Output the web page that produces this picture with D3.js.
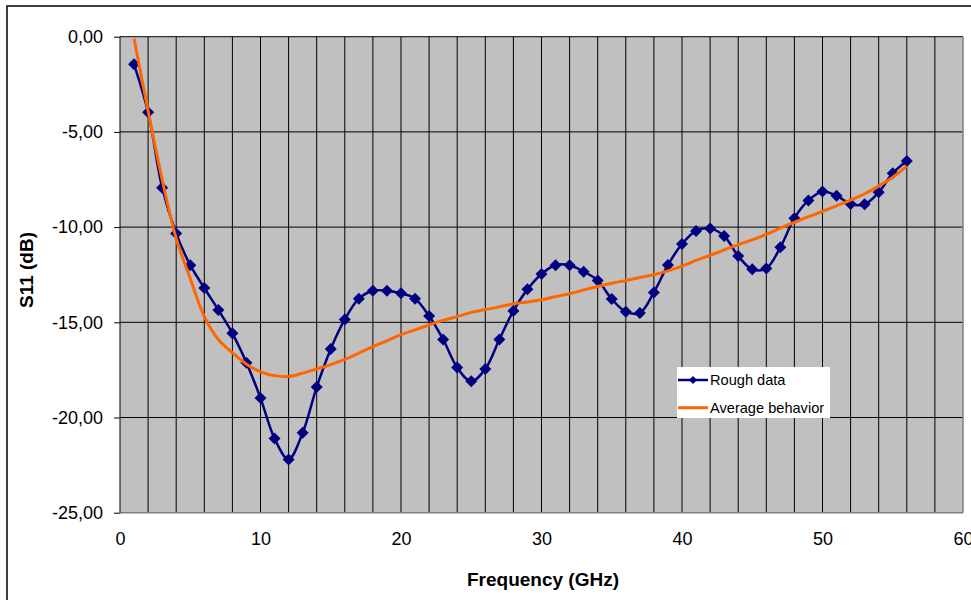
<!DOCTYPE html>
<html>
<head>
<meta charset="utf-8">
<script src="https://cdn.jsdelivr.net/npm/d3@7"></script>
<style>
  body { margin: 0; background: #fff; }
  text { font-family: "Liberation Sans", Arial, sans-serif; fill: #000; }
</style>
</head>
<body>
<div id="chart"></div>
<script>
// Datos
const frecuencias = [1, 2, 3, 4, 5, 6, 7, 8, 9, 10, 11, 12, 13, 14, 15, 16, 17, 18, 19, 20,
  21, 22, 23, 24, 25, 26, 27, 28, 29, 30, 31, 32, 33, 34, 35, 36, 37, 38, 39, 40,
  41, 42, 43, 44, 45, 46, 47, 48, 49, 50, 51, 52, 53, 54, 55, 56];

const roughData = [-1.45, -3.97, -7.93, -10.33, -12.0, -13.2, -14.35, -15.58, -17.12, -18.98,
  -21.1, -22.2, -20.8, -18.4, -16.4, -14.85, -13.76, -13.34, -13.34, -13.48,
  -13.76, -14.67, -15.9, -17.38, -18.1, -17.45, -15.9, -14.4, -13.27, -12.46,
  -12.0, -12.0, -12.34, -12.8, -13.78, -14.44, -14.51, -13.43, -11.99, -10.89,
  -10.2, -10.08, -10.47, -11.52, -12.22, -12.17, -11.06, -9.53, -8.6, -8.13,
  -8.35, -8.79, -8.8, -8.17, -7.17, -6.53];

const averageBehavior = [-0.1, -3.9, -7.5, -10.6, -12.7, -14.7, -15.9, -16.6, -17.2, -17.6,
  -17.8, -17.85, -17.67, -17.45, -17.22, -16.95, -16.62, -16.28, -15.97, -15.65,
  -15.4, -15.14, -14.9, -14.7, -14.48, -14.33, -14.19, -14.03, -13.93, -13.82,
  -13.65, -13.5, -13.3, -13.12, -12.95, -12.8, -12.65, -12.5, -12.3, -12.05,
  -11.75, -11.48, -11.2, -10.92, -10.67, -10.38, -10.05, -9.75, -9.45, -9.18,
  -8.88, -8.58, -8.25, -7.85, -7.38, -6.8];

const xTicks = [0, 10, 20, 30, 40, 50, 60];
const yTicks = [0, -5, -10, -15, -20, -25];
const xGrid = [2, 4, 6, 8, 12, 14, 16, 18, 22, 24, 26, 28, 32, 34, 36, 38, 42, 44, 46, 48, 52, 54, 56, 58,
  10, 20, 30, 40, 50];
const seriesNames = ["Rough data", "Average behavior"];

const width = 971, height = 600;
const plot = { left: 120, top: 36.7, right: 963, bottom: 512.7 };

const svg = d3.select("#chart").append("svg")
  .attr("width", width)
  .attr("height", height);

// marco exterior
svg.append("rect")
  .attr("x", 7).attr("y", 6)
  .attr("width", 1000).attr("height", 1000)
  .attr("fill", "none")
  .attr("stroke", "#000")
  .attr("stroke-width", 1.5);

const x = d3.scaleLinear().domain([0, 60]).range([plot.left, plot.right]);
const y = d3.scaleLinear().domain([-25, 0]).range([plot.bottom, plot.top]);

// fondo gris del área de trazado
svg.append("rect")
  .attr("x", plot.left).attr("y", plot.top)
  .attr("width", plot.right - plot.left)
  .attr("height", plot.bottom - plot.top)
  .attr("fill", "#c0c0c0");

// rejilla vertical
svg.append("g").selectAll("line")
  .data(xGrid)
  .enter().append("line")
  .attr("x1", d => x(d)).attr("x2", d => x(d))
  .attr("y1", plot.top).attr("y2", plot.bottom)
  .attr("stroke", "#000")
  .attr("stroke-width", 1);

// rejilla horizontal
svg.append("g").selectAll("line")
  .data(yTicks.filter(d => d !== -25))
  .enter().append("line")
  .attr("x1", plot.left).attr("x2", plot.right)
  .attr("y1", d => y(d)).attr("y2", d => y(d))
  .attr("stroke", "#000")
  .attr("stroke-width", 1);

// bordes derecho e inferior
svg.append("line")
  .attr("x1", plot.right).attr("x2", plot.right)
  .attr("y1", plot.top).attr("y2", plot.bottom)
  .attr("stroke", "#808080").attr("stroke-width", 1.5);
svg.append("line")
  .attr("x1", plot.left).attr("x2", plot.right)
  .attr("y1", plot.bottom).attr("y2", plot.bottom)
  .attr("stroke", "#808080").attr("stroke-width", 1.5);

// eje Y
const yAxis = svg.append("g")
  .attr("transform", `translate(${plot.left},0)`)
  .call(d3.axisLeft(y)
    .tickValues(yTicks)
    .tickSize(6)
    .tickPadding(11)
    .tickFormat(d => d3.format(".2f")(d).replace(".", ",").replace("−", "-")));
yAxis.select(".domain").attr("stroke", "#000").attr("d", `M0,${plot.top}V${plot.bottom}`);
yAxis.selectAll(".tick line").attr("stroke", "#000");
yAxis.selectAll("text")
  .style("font-size", "18px")
  .style("font-family", "'Liberation Sans', Arial, sans-serif")
  .attr("fill", "#000");

// eje X (solo etiquetas)
const xAxis = svg.append("g")
  .attr("transform", `translate(0,${plot.bottom})`)
  .call(d3.axisBottom(x).tickValues(xTicks).tickSize(0).tickPadding(20));
xAxis.select(".domain").remove();
xAxis.selectAll("text")
  .style("font-size", "18px")
  .style("font-family", "'Liberation Sans', Arial, sans-serif")
  .attr("fill", "#000");

// títulos de ejes
svg.append("text")
  .attr("x", 543).attr("y", 586)
  .attr("text-anchor", "middle")
  .style("font-size", "19px")
  .style("font-weight", "bold")
  .text("Frequency (GHz)");

svg.append("text")
  .attr("transform", "translate(33,270) rotate(-90)")
  .attr("text-anchor", "middle")
  .style("font-size", "19px")
  .style("font-weight", "bold")
  .text("S11 (dB)");

const clip = svg.append("clipPath").attr("id", "clip")
  .append("rect")
  .attr("x", plot.left).attr("y", plot.top)
  .attr("width", plot.right - plot.left)
  .attr("height", plot.bottom - plot.top);

const rough = frecuencias.map((f, i) => ({ f: f, v: roughData[i] }));
const avg = frecuencias.map((f, i) => ({ f: f, v: averageBehavior[i] }));

const line = d3.line()
  .x(d => x(d.f))
  .y(d => y(d.v))
  .curve(d3.curveCatmullRom.alpha(0.5));

// serie rough data
svg.append("path")
  .datum(rough)
  .attr("d", line)
  .attr("fill", "none")
  .attr("stroke", "#000080")
  .attr("stroke-width", 2.5)
  .attr("clip-path", "url(#clip)");

const diamond = d3.symbol().type(d3.symbolSquare).size(72);
svg.append("g").selectAll("path")
  .data(rough)
  .enter().append("path")
  .attr("d", diamond)
  .attr("transform", d => `translate(${x(d.f)},${y(d.v)}) rotate(45)`)
  .attr("fill", "#000080");

// serie average behavior
svg.append("path")
  .datum(avg)
  .attr("d", line)
  .attr("fill", "none")
  .attr("stroke", "#ff6600")
  .attr("stroke-width", 3)
  .attr("clip-path", "url(#clip)");

// leyenda
const legend = svg.append("g");
legend.append("rect")
  .attr("x", 677).attr("y", 367)
  .attr("width", 153).attr("height", 51)
  .attr("fill", "#fff");

legend.append("line")
  .attr("x1", 678).attr("x2", 708)
  .attr("y1", 380).attr("y2", 380)
  .attr("stroke", "#000080").attr("stroke-width", 2.5);
legend.append("path")
  .attr("d", d3.symbol().type(d3.symbolSquare).size(32))
  .attr("transform", "translate(693,380) rotate(45)")
  .attr("fill", "#000080");
legend.append("line")
  .attr("x1", 678).attr("x2", 708)
  .attr("y1", 407.7).attr("y2", 407.7)
  .attr("stroke", "#ff6600").attr("stroke-width", 3);

legend.selectAll("text.leg")
  .data(seriesNames)
  .enter().append("text")
  .attr("class", "leg")
  .attr("x", 710)
  .attr("y", (d, i) => i === 0 ? 385 : 413)
  .style("font-size", "14.6px")
  .text(d => d);
</script>
</body>
</html>
